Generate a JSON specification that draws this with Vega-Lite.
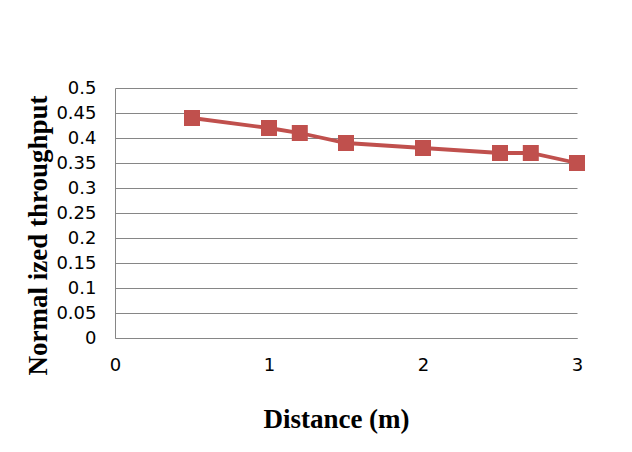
{
  "$schema": "https://vega.github.io/schema/vega-lite/v6.json",
  "width": 462,
  "height": 250,
  "autosize": {"type": "none"},
  "padding": {"left": 115, "top": 88, "right": 55, "bottom": 114},
  "background": "white",
  "config": {
    "view": {"stroke": null},
    "axis": {
      "labelFont": "DejaVu Sans",
      "labelFontSize": 18,
      "labelColor": "#000000",
      "titleFont": "Liberation Serif",
      "titleFontWeight": "bold",
      "titleFontSize": 27,
      "titleColor": "#000000",
      "domainColor": "#868686",
      "gridColor": "#868686",
      "ticks": false
    }
  },
  "data": {
    "values": [
      {"distance": 0.5, "throughput": 0.44},
      {"distance": 1.0, "throughput": 0.42},
      {"distance": 1.2, "throughput": 0.41},
      {"distance": 1.5, "throughput": 0.39},
      {"distance": 2.0, "throughput": 0.38},
      {"distance": 2.5, "throughput": 0.37},
      {"distance": 2.7, "throughput": 0.37},
      {"distance": 3.0, "throughput": 0.35}
    ]
  },
  "encoding": {
    "x": {
      "field": "distance",
      "type": "quantitative",
      "scale": {"domain": [0, 3], "nice": false},
      "axis": {
        "title": "Distance (m)",
        "values": [0, 1, 2, 3],
        "grid": false,
        "labelPadding": 18,
        "titleX": 221,
        "titleY": 68,
        "labelFlush": false
      }
    },
    "y": {
      "field": "throughput",
      "type": "quantitative",
      "scale": {"domain": [0, 0.5], "nice": false},
      "axis": {
        "title": "Normal ized throughput",
        "values": [0, 0.05, 0.1, 0.15, 0.2, 0.25, 0.3, 0.35, 0.4, 0.45, 0.5],
        "format": "~g",
        "labelPadding": 19,
        "titleX": -63,
        "titleY": 147,
        "labelFlush": false
      }
    }
  },
  "layer": [
    {"mark": {"type": "line", "color": "#C0504D", "strokeWidth": 3.8}},
    {"mark": {"type": "point", "shape": "square", "filled": true, "opacity": 1, "color": "#C0504D", "size": 256}}
  ]
}
